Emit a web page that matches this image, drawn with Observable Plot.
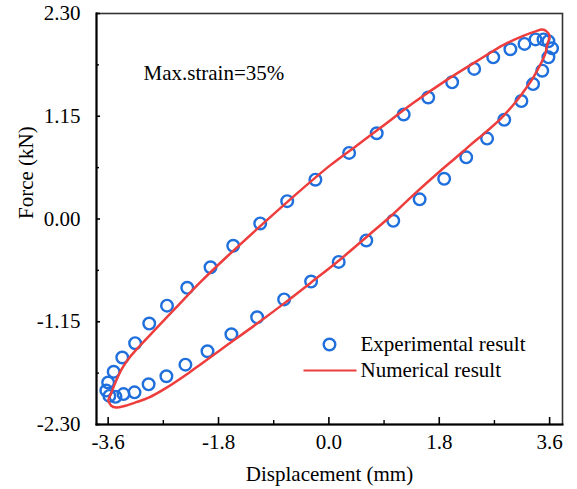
<!DOCTYPE html>
<html>
<head>
<meta charset="utf-8">
<script src="https://cdn.jsdelivr.net/npm/d3@7"></script>
<script src="https://cdn.jsdelivr.net/npm/@observablehq/plot@0.6"></script>
<style>
  html, body { margin: 0; padding: 0; background: #fff; }
</style>
</head>
<body>
<div id="chart"></div>
<script>
// Experimental result (circles): loading branch then unloading branch
const expX = [-3.60, -3.51, -3.37, -3.16, -2.93, -2.64, -2.31, -1.93, -1.56, -1.12, -0.68, -0.22, 0.33, 0.78, 1.22, 1.62, 2.01, 2.37, 2.68, 2.96, 3.19, 3.37, 3.50, 3.58, 3.64,
              3.58, 3.48, 3.33, 3.14, 2.86, 2.58, 2.24, 1.88, 1.48, 1.05, 0.61, 0.16, -0.29, -0.73, -1.17, -1.59, -1.98, -2.34, -2.65, -2.94, -3.17, -3.35, -3.48, -3.58, -3.63];
const expY = [-1.83, -1.71, -1.55, -1.39, -1.17, -0.97, -0.77, -0.54, -0.30, -0.05, 0.20, 0.44, 0.74, 0.96, 1.17, 1.36, 1.53, 1.68, 1.81, 1.90, 1.96, 2.01, 2.01, 1.99, 1.91,
              1.81, 1.66, 1.51, 1.32, 1.11, 0.90, 0.69, 0.45, 0.22, -0.02, -0.24, -0.48, -0.70, -0.90, -1.10, -1.29, -1.48, -1.63, -1.76, -1.85, -1.94, -1.96, -1.99, -1.98, -1.92];

// Numerical result (closed loop)
const numX = [-3.60, -3.54, -3.47, -3.37, -3.25, -3.07, -2.85, -2.49, -2.10, -1.66, -1.20, -0.63, 0.02, 0.43, 0.84, 1.38, 1.93, 2.42, 2.85, 3.17, 3.37, 3.48, 3.55, 3.60,
              3.56, 3.53, 3.45, 3.33, 3.20, 3.07, 2.80, 2.52, 2.31, 2.06, 1.82, 1.38, 1.04, 0.60, 0.19, -0.29, -0.74, -1.17, -1.72, -2.10, -2.28, -2.70, -2.94, -3.14, -3.32, -3.47, -3.55, -3.60];
const numY = [-2.03, -1.93, -1.81, -1.67, -1.55, -1.41, -1.25, -0.99, -0.71, -0.42, -0.13, 0.22, 0.60, 0.81, 1.02, 1.30, 1.56, 1.77, 1.95, 2.05, 2.10, 2.12, 2.10, 2.05,
              1.95, 1.85, 1.73, 1.58, 1.45, 1.33, 1.12, 0.95, 0.83, 0.68, 0.54, 0.27, 0.05, -0.21, -0.45, -0.71, -0.95, -1.17, -1.44, -1.63, -1.72, -1.91, -2.00, -2.05, -2.09, -2.11, -2.09, -2.03];

const xTicks = [-3.6, -1.8, 0.0, 1.8, 3.6];
const xMinorTicks = [-2.7, -0.9, 0.9, 2.7];
const yTicks = [-2.30, -1.15, 0.00, 1.15, 2.30];
const yMinorTicks = [-1.725, -0.575, 0.575, 1.725];

const xLabel = "Displacement (mm)";
const yLabel = "Force (kN)";
const annotation = "Max.strain=35%";
const legendLabels = ["Experimental result", "Numerical result"];

const blue = "#1f6fdc";
const red = "#ee3d3d";

const expData = expX.map((x, i) => ({x, y: expY[i]}));
const numData = numX.map((x, i) => ({x, y: numY[i]}));

const lineSymbol = {draw(ctx) { ctx.moveTo(-26.5, 0); ctx.lineTo(26.5, 0); }};

const chart = Plot.plot({
  width: 577,
  height: 489,
  marginLeft: 96,
  marginRight: 15,
  marginTop: 13,
  marginBottom: 65,
  x: {domain: [-3.79, 3.81]},
  y: {domain: [-2.3, 2.3]},
  style: {fontFamily: "'Liberation Serif', 'Times New Roman', serif", fontSize: "21px", background: "#fff", color: "#000"},
  marks: [
    Plot.frame({stroke: "#333", strokeWidth: 1.6}),
    // inward tick marks
    Plot.axisX(xTicks, {anchor: "bottom", tickSize: 7, dy: -7, tickFormat: () => "", label: null, strokeWidth: 1.6}),
    Plot.axisX(xMinorTicks, {anchor: "bottom", tickSize: 4, dy: -4, tickFormat: () => "", label: null, strokeWidth: 1.4}),
    Plot.axisY(yTicks, {anchor: "left", tickSize: 4, dx: 4, tickFormat: () => "", label: null, strokeWidth: 1.6}),
    Plot.axisY(yMinorTicks, {anchor: "left", tickSize: 3, dx: 3, tickFormat: () => "", label: null, strokeWidth: 1.4}),
    // tick labels
    Plot.axisX(xTicks, {anchor: "bottom", tickSize: 0, tickPadding: 10, tickFormat: d => d.toFixed(1), label: null}),
    Plot.axisY(yTicks, {anchor: "left", tickSize: 0, tickPadding: 16, tickFormat: d => d.toFixed(2), label: null}),
    // black left & bottom axis lines
    Plot.frame({anchor: "left", stroke: "#000", strokeWidth: 2}),
    Plot.frame({anchor: "bottom", stroke: "#000", strokeWidth: 2}),
    // axis titles
    Plot.text([xLabel], {frameAnchor: "bottom", dy: 50, text: d => d, lineAnchor: "middle"}),
    Plot.text([yLabel], {frameAnchor: "left", dx: -70, rotate: -90, text: d => d, lineAnchor: "middle"}),
    // data
    Plot.dot(expData, {x: "x", y: "y", r: 5.8, stroke: blue, strokeWidth: 2.4, fill: "none"}),
    Plot.line(numData, {x: "x", y: "y", stroke: red, strokeWidth: 2.5, curve: "catmull-rom"}),
    // annotation
    Plot.text([annotation], {frameAnchor: "top-left", dx: 47, dy: 60, text: d => d, textAnchor: "start", lineAnchor: "middle"}),
    // legend
    Plot.dot([legendLabels[0]], {frameAnchor: "top-left", dx: 233, dy: 331, r: 5.8, stroke: blue, strokeWidth: 2.4, fill: "none"}),
    Plot.dot([legendLabels[1]], {frameAnchor: "top-left", dx: 233.5, dy: 357, symbol: lineSymbol, stroke: red, strokeWidth: 2}),
    Plot.text([legendLabels[0]], {frameAnchor: "top-left", dx: 264, dy: 331, text: d => d, textAnchor: "start", lineAnchor: "middle"}),
    Plot.text([legendLabels[1]], {frameAnchor: "top-left", dx: 264, dy: 357, text: d => d, textAnchor: "start", lineAnchor: "middle"})
  ]
});
document.getElementById("chart").appendChild(chart);
</script>
</body>
</html>
